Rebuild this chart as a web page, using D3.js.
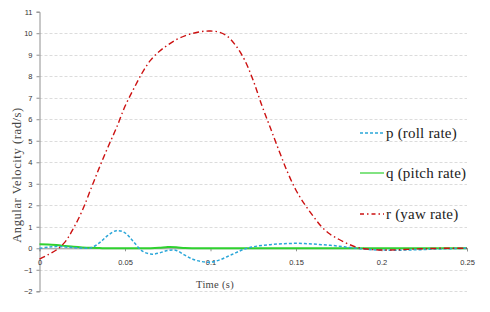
<!DOCTYPE html>
<html>
<head>
<meta charset="utf-8">
<script src="https://cdn.jsdelivr.net/npm/d3@7"></script>
<style>
  body { margin: 0; background: #fff; }
  svg { display: block; }
</style>
</head>
<body>
<script>
// time samples (s)
var time = [0, 0.005, 0.01, 0.015, 0.02, 0.025, 0.03, 0.035, 0.04, 0.045,
            0.05, 0.055, 0.06, 0.065, 0.07, 0.075, 0.08, 0.085, 0.09, 0.095,
            0.1, 0.105, 0.11, 0.115, 0.12, 0.125, 0.13, 0.135, 0.14, 0.145,
            0.15, 0.155, 0.16, 0.165, 0.17, 0.175, 0.18, 0.185, 0.19, 0.195,
            0.2, 0.205, 0.21, 0.215, 0.22, 0.225, 0.23, 0.235, 0.24, 0.245, 0.25];

// p (roll rate)
var rollRate = [0, 0.05, 0.08, 0.06, 0.03, 0.01, 0.02, 0.25, 0.6, 0.82,
                0.72, 0.3, -0.12, -0.27, -0.22, -0.1, -0.1, -0.32, -0.52, -0.62,
                -0.65, -0.55, -0.38, -0.2, -0.03, 0.07, 0.13, 0.17, 0.2, 0.22,
                0.23, 0.22, 0.2, 0.17, 0.14, 0.1, 0.05, 0, -0.04, -0.07,
                -0.08, -0.09, -0.09, -0.08, -0.07, -0.06, -0.04, -0.03, -0.02, -0.01, 0];

// q (pitch rate)
var pitchRate = [0.19, 0.18, 0.15, 0.11, 0.07, 0.04, 0.02, 0.01, 0, 0,
                 0, 0, 0, 0, 0.02, 0.06, 0.05, 0.01, 0, 0,
                 0, 0, 0, 0, 0, 0, 0, 0, 0, 0,
                 0, 0, 0, 0, 0, 0, 0, 0, 0, 0,
                 0, 0, 0, 0, 0, 0, 0, 0, 0, 0, 0];

// r (yaw rate)
var yawRate = [-0.5, -0.3, -0.07, 0.3, 0.95, 1.75, 2.75, 3.75, 4.7, 5.6,
               6.6, 7.4, 8.15, 8.75, 9.15, 9.45, 9.7, 9.88, 10.0, 10.08,
               10.1, 10.05, 9.85, 9.4, 8.75, 7.8, 6.65, 5.6, 4.55, 3.55,
               2.7, 2.05, 1.5, 1.0, 0.65, 0.42, 0.22, 0.06, -0.02, -0.06,
               -0.08, -0.08, -0.07, -0.05, -0.03, -0.02, -0.01, 0, 0, 0, 0];

var xTicks = [0, 0.05, 0.1, 0.15, 0.2, 0.25];
var xTickLabels = ["0", "0.05", "0.1", "0.15", "0.2", "0.25"];
var yTicks = [-2, -1, 0, 1, 2, 3, 4, 5, 6, 7, 8, 9, 10, 11];
var gridValues = [-2, -1, 1, 2, 3, 4, 5, 6, 7, 8, 9, 10];

var seriesNames = ["p (roll rate)", "q (pitch rate)", "r (yaw rate)"];

var w = 490;
var h = 312;

var svg = d3.select("body").append("svg")
	.attr("width", w)
	.attr("height", h);

var x = d3.scaleLinear().domain([0, 0.25]).range([39.5, 467]);
var y = d3.scaleLinear().domain([-2, 11]).range([291.3, 11.7]);

// grid
svg.selectAll("line.grid")
	.data(gridValues)
	.enter()
	.append("line")
	.attr("class", "grid")
	.attr("x1", x(0))
	.attr("x2", x(0.25))
	.attr("y1", function(d) { return Math.round(y(d)) + 0.5; })
	.attr("y2", function(d) { return Math.round(y(d)) + 0.5; })
	.attr("stroke", "#dcdcdc")
	.attr("stroke-width", 1)
	.attr("stroke-dasharray", "3,2");

// y axis
var yAxis = svg.append("g")
	.attr("transform", "translate(" + x(0) + ",0)")
	.call(d3.axisLeft(y).tickValues(yTicks).tickSize(3).tickPadding(4).tickFormat(d3.format("d")));
yAxis.select(".domain").attr("stroke", "#909090");
yAxis.selectAll(".tick line").attr("stroke", "#909090");
yAxis.selectAll("text")
	.attr("font-family", "Liberation Sans, Arial, sans-serif")
	.attr("font-size", "7.5px")
	.attr("fill", "#333");

// x axis sits on zero
var xAxis = svg.append("g")
	.attr("transform", "translate(0," + y(0) + ")")
	.call(d3.axisBottom(x).tickValues(xTicks).tickSize(3).tickPadding(8)
		.tickFormat(function(d, i) { return xTickLabels[i]; }));
xAxis.select(".domain").attr("stroke", "#909090");
xAxis.selectAll(".tick line").attr("stroke", "#909090");
xAxis.selectAll("text")
	.attr("font-family", "Liberation Sans, Arial, sans-serif")
	.attr("font-size", "7.5px")
	.attr("fill", "#333");

// series
var line = function(values) {
	return d3.line()
		.x(function(d, i) { return x(time[i]); })
		.y(function(d) { return y(d); })
		.curve(d3.curveCatmullRom.alpha(0.5))(values);
};

svg.append("path")
	.attr("d", line(pitchRate))
	.attr("fill", "none")
	.attr("stroke", "#2fd12f")
	.attr("stroke-width", 2);

svg.append("path")
	.attr("d", line(rollRate))
	.attr("fill", "none")
	.attr("stroke", "#2aa6d8")
	.attr("stroke-width", 1.5)
	.attr("stroke-dasharray", "3,2");

svg.append("path")
	.attr("d", line(yawRate))
	.attr("fill", "none")
	.attr("stroke", "#cc1111")
	.attr("stroke-width", 1.4)
	.attr("stroke-dasharray", "6,3,1.5,3");

// axis titles
svg.append("text")
	.text("Time (s)")
	.attr("x", 215)
	.attr("y", 288)
	.attr("text-anchor", "middle")
	.attr("font-family", "Liberation Serif, Times New Roman, serif")
	.attr("font-size", "10.5px")
	.attr("letter-spacing", "0.3px")
	.attr("fill", "#444");

svg.append("text")
	.text("Angular Velocity (rad/s)")
	.attr("transform", "translate(21,175) rotate(-90)")
	.attr("text-anchor", "middle")
	.attr("font-family", "Liberation Serif, Times New Roman, serif")
	.attr("font-size", "12.5px")
	.attr("letter-spacing", "0.6px")
	.attr("fill", "#444");

// legend
var legendColors = ["#2aa6d8", "#2fd12f", "#cc1111"];
var legendDash = ["3,2", null, "4,3,1.5,3"];
var legendWidth = [1.5, 1.2, 1.5];
var legendY = [133, 173, 214];

var legend = svg.selectAll("g.legend")
	.data(seriesNames)
	.enter()
	.append("g")
	.attr("class", "legend")
	.attr("transform", function(d, i) { return "translate(360," + legendY[i] + ")"; });

legend.append("line")
	.attr("x1", 0)
	.attr("x2", 24)
	.attr("y1", 0)
	.attr("y2", 0)
	.attr("stroke", function(d, i) { return legendColors[i]; })
	.attr("stroke-width", function(d, i) { return legendWidth[i]; })
	.attr("stroke-dasharray", function(d, i) { return legendDash[i]; });

legend.append("text")
	.text(function(d) { return d; })
	.attr("x", 26)
	.attr("y", 5)
	.attr("font-family", "Liberation Serif, Times New Roman, serif")
	.attr("font-size", "15px")
	.attr("letter-spacing", "0.2px")
	.attr("fill", "#222");
</script>
</body>
</html>
